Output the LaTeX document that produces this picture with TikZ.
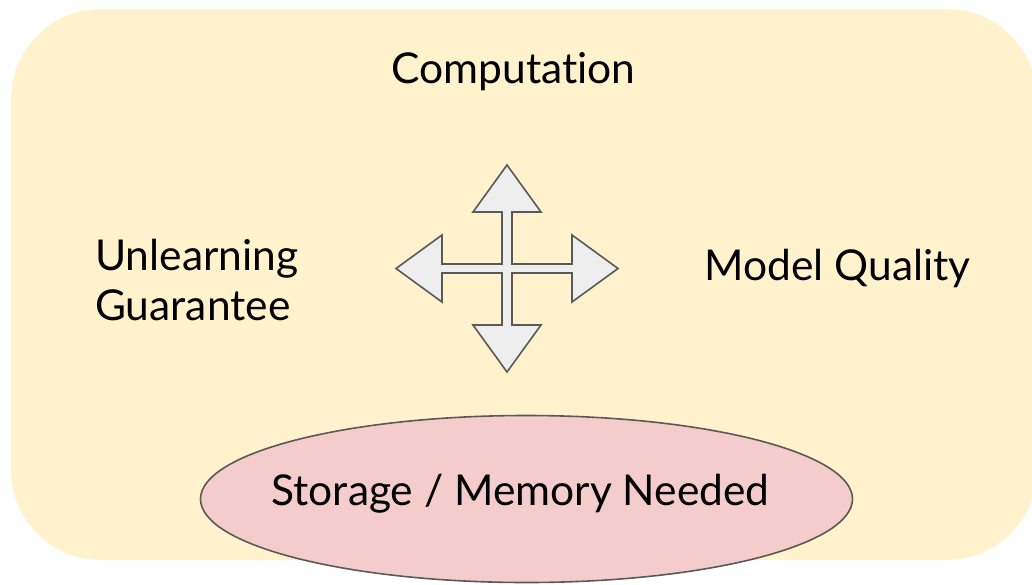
\documentclass[tikz,border=0pt]{standalone}
\usepackage{fontspec}
\setmainfont{Lato}[Ligatures=NoCommon]
\usetikzlibrary{shapes.geometric}
\definecolor{panelfill}{HTML}{FFF2CC}
\definecolor{memfill}{HTML}{F4CCCC}
\definecolor{arrowfill}{HTML}{EEEEEE}
\definecolor{edgegray}{HTML}{595959}
\tikzset{
  label text/.style={font=\fontsize{42.5}{50}\selectfont, inner sep=0pt, text=black},
  outline/.style={draw=edgegray, line width=1.6pt, line join=miter}
}
\begin{document}
\begin{tikzpicture}[x=1pt, y=-1pt]
\useasboundingbox (0,0) rectangle (1032,584);
\begin{scope}
\clip (0,0) rectangle (1032,584);
% rounded background panel
\fill[panelfill, rounded corners=90pt] (11,9) rectangle (1037,560);
\end{scope}

% four-way arrow
\draw[outline, fill=arrowfill]
  (507,165) -- (541,212) -- (512,212) -- (512,264) -- (572,264) -- (572,235)
  -- (618,268.5) -- (572,302) -- (572,273) -- (512,273) -- (512,325)
  -- (541,325) -- (507,372) -- (473,325) -- (502,325) -- (502,273)
  -- (442,273) -- (442,302) -- (396,268.5) -- (442,235) -- (442,264)
  -- (502,264) -- (502,212) -- (473,212) -- cycle;

% storage ellipse
\node[ellipse, outline, fill=memfill, minimum width=652pt, minimum height=167pt, inner sep=0pt]
  (mem) at (526.5,499) {};
\node[label text, anchor=base] (memtext) at (520.5,505) {Storage / Memory Needed};

% axis labels
\node[label text, anchor=base] (comp) at (513.5,83) {Computation};
\node[label text, anchor=base] (model) at (837.5,280) {Model Quality};
\node[label text, anchor=base west, align=left] (unlearn) at (95,320) {Unlearning\\Guarantee};
\end{tikzpicture}
\end{document}
